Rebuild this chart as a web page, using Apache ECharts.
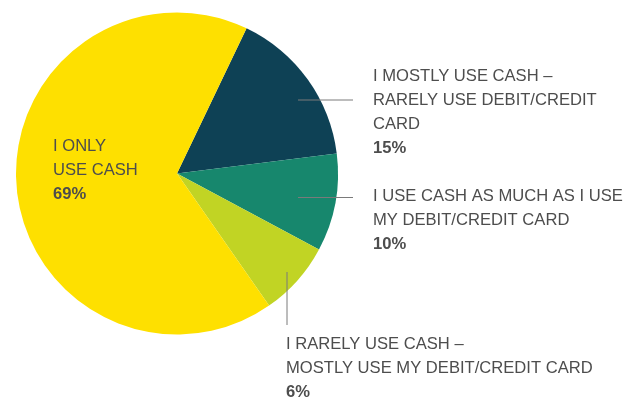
<!DOCTYPE html>
<html>
<head>
<meta charset="utf-8">
<script src="https://cdn.jsdelivr.net/npm/echarts@6/dist/echarts.min.js"></script>
<style>html,body{margin:0;padding:0;background:#fff}#c{width:634px;height:404px}</style>
</head>
<body>
<div id="c"></div>
<script>
// Categories (clockwise from the top-right boundary)
var categories = [
  'I MOSTLY USE CASH –\nRARELY USE DEBIT/CREDIT\nCARD',
  'I USE CASH AS MUCH AS I USE\nMY DEBIT/CREDIT CARD',
  'I RARELY USE CASH –\nMOSTLY USE MY DEBIT/CREDIT CARD',
  'I ONLY\nUSE CASH'
];
// Slice sizes as drawn in the picture (%)
var sliceValues = [15.9, 9.8, 7.5, 66.8];
// Percentages as printed on the labels
var percentLabels = ['15%', '10%', '6%', '69%'];
var colors = ['#0e4155', '#17876d', '#c1d424', '#fee000'];

// Label layout (positions only)
var labelPos = [
  {x: 373, y: 64, line: [[298, 100], [353, 100]]},
  {x: 373, y: 184, line: [[298, 197.5], [353, 197.5]]},
  {x: 286, y: 332, line: [[287, 272], [287, 325]]},
  {x: 53, y: 134, line: null}
];

var chart = echarts.init(document.getElementById('c'), null, {renderer: 'canvas'});

function buildData(transparent) {
  return categories.map(function (n, i) {
    return {
      name: n,
      value: sliceValues[i],
      itemStyle: {color: transparent ? 'rgba(0,0,0,0)' : colors[i]},
      labelLine: {show: labelPos[i].line !== null}
    };
  });
}

var common = {
  type: 'pie',
  center: [177, 173.5],
  radius: 161,
  startAngle: 64.4,
  clockwise: true,
  avoidLabelOverlap: false,
  itemStyle: {borderWidth: 0},
  emphasis: {disabled: true},
  silent: true
};

chart.setOption({
  animation: false,
  series: [
    Object.assign({}, common, {
      z: 2,
      data: buildData(false),
      label: {show: false},
      labelLine: {show: false}
    }),
    Object.assign({}, common, {
      z: 5,
      data: buildData(true),
      label: {
        show: true,
        position: 'outside',
        overflow: 'none',
        fontFamily: 'Liberation Sans',
        formatter: function (p) {
          var lines = p.name.split('\n').map(function (l) { return '{t|' + l + '}'; });
          lines.push('{p|' + percentLabels[p.dataIndex] + '}');
          return lines.join('\n');
        },
        rich: {
          t: {fontFamily: 'Liberation Sans', fontSize: 16.6, color: '#4d4d4d', lineHeight: 24},
          p: {fontFamily: 'Liberation Sans', fontSize: 16.6, fontWeight: 'bold', color: '#4d4d4d', lineHeight: 24}
        }
      },
      labelLine: {show: true, lineStyle: {color: '#7a7a7a', width: 1}},
      labelLayout: function (params) {
        var lp = labelPos[params.dataIndex];
        var o = {x: lp.x, y: lp.y, align: 'left', verticalAlign: 'top'};
        if (lp.line) o.labelLinePoints = lp.line;
        return o;
      }
    })
  ]
});
</script>
</body>
</html>
